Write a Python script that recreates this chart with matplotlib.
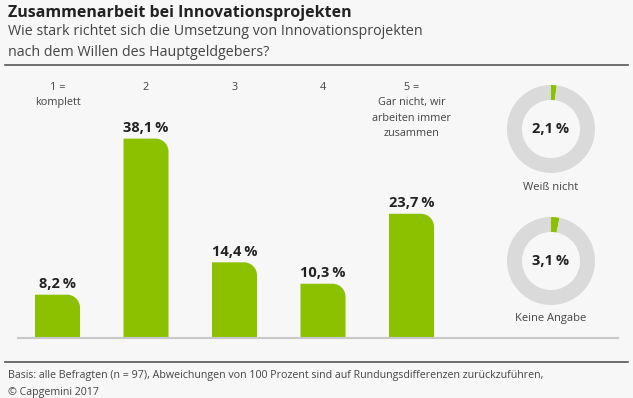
import matplotlib
matplotlib.use("Agg")
import matplotlib.pyplot as plt
from matplotlib.path import Path
from matplotlib.patches import PathPatch
from matplotlib.lines import Line2D

# ---- data ----
categories = ["1 =\nkomplett", "2", "3", "4", "5 =\nGar nicht, wir\narbeiten immer\nzusammen"]
values = [8.2, 38.1, 14.4, 10.3, 23.7]
value_labels = ["8,2\u2009%", "38,1\u2009%", "14,4\u2009%", "10,3\u2009%", "23,7\u2009%"]
donut_names = ["Weiß nicht", "Keine Angabe"]
donut_values = [2.1, 3.1]
donut_labels = ["2,1\u2009%", "3,1\u2009%"]

title = "Zusammenarbeit bei Innovationsprojekten"
subtitle = "Wie stark richtet sich die Umsetzung von Innovationsprojekten\nnach dem Willen des Hauptgeldgebers?"
footer = ("Basis: alle Befragten (n = 97), Abweichungen von 100 Prozent sind auf Rundungsdifferenzen zurückzuführen,\n"
          "© Capgemini 2017")

GREEN = "#8cc100"
RING = "#dadada"
BG = "#f7f7f7"
TXT = "#222222"
SUB = "#444444"
FONT = ["Open Sans", "DejaVu Sans"]

W, H = 633, 398
fig = plt.figure(figsize=(W / 100, H / 100), dpi=100)
fig.patch.set_facecolor(BG)

def fx(px):
    return px / W

def fy(py):
    return 1 - py / H

def ftext(x, y, s, **kw):
    kw.setdefault("family", FONT)
    kw.setdefault("color", TXT)
    fig.text(fx(x), fy(y), s, **kw)

# titles
ftext(8, 13, title, fontsize=11.5, fontweight="bold", va="center", ha="left")
ftext(8, 42, subtitle, fontsize=10.3, va="center", ha="left", color=SUB, linespacing=1.5)

# rules
fig.add_artist(Line2D([fx(5), fx(628)], [fy(65), fy(65)], color="#555555", lw=1.2))
fig.add_artist(Line2D([fx(5), fx(628)], [fy(362), fy(362)], color="#555555", lw=1.2))

# footer
ftext(8, 384, footer, fontsize=7.7, va="center", ha="left", color=SUB, linespacing=1.65)

# ---- bar axes ----
px_per_unit = 88.5
left_px, right_px = 18, 618
base_px, top_px = 337.5, 65
px_per_pct = 5.22
c0 = 57.5
ax = fig.add_axes([fx(left_px), fy(base_px), fx(right_px - left_px), (base_px - top_px) / H])
ax.set_xlim(-(c0 - left_px) / px_per_unit, (right_px - c0) / px_per_unit)
ax.set_ylim(0, (base_px - top_px) / px_per_pct)
ax.axis("off")
ax.patch.set_alpha(0)

bw = 45 / px_per_unit
r_px = 13
rx = r_px / px_per_unit
ry = r_px / px_per_pct
k = 0.5523
for i, v in enumerate(values):
    x0, x1 = i - bw / 2, i + bw / 2
    verts = [(x0, 0), (x0, v), (x1 - rx, v),
             (x1 - rx + k * rx, v), (x1, v - ry + k * ry), (x1, v - ry),
             (x1, 0), (x0, 0)]
    codes = [Path.MOVETO, Path.LINETO, Path.LINETO,
             Path.CURVE4, Path.CURVE4, Path.CURVE4,
             Path.LINETO, Path.CLOSEPOLY]
    ax.add_patch(PathPatch(Path(verts, codes), facecolor=GREEN, edgecolor="none"))
    ax.text(i, v + 10.5 / px_per_pct, value_labels[i], ha="center", va="center",
            fontsize=10.5, fontweight="bold", color=TXT, family=FONT)
    ax.text(i, (base_px - 82) / px_per_pct, categories[i], ha="center", va="top",
            fontsize=7.8, color=SUB, family=FONT, linespacing=1.55)

ax.plot(ax.get_xlim(), [0, 0], color="#c8c8c8", lw=1.5, clip_on=False)

# ---- donuts ----
centers = [(551, 129), (551, 261)]
R = 44
for (cx, cy), name, val, lab in zip(centers, donut_names, donut_values, donut_labels):
    dax = fig.add_axes([fx(cx - R), fy(cy + R), 2 * R / W, 2 * R / H])
    dax.pie([val, 100 - val], colors=[GREEN, RING], startangle=90, counterclock=False,
            wedgeprops=dict(width=15 / R, edgecolor="none"))
    dax.set_xlim(-1, 1)
    dax.set_ylim(-1, 1)
    dax.set_aspect("equal")
    dax.axis("off")
    dax.text(0, 0, lab, ha="center", va="center", fontsize=10.5, fontweight="bold",
             color=TXT, family=FONT)
    ftext(cx, cy + 58, name, fontsize=8, ha="center", va="center", color=SUB)

fig.savefig("out.png", dpi=100, facecolor=BG)
